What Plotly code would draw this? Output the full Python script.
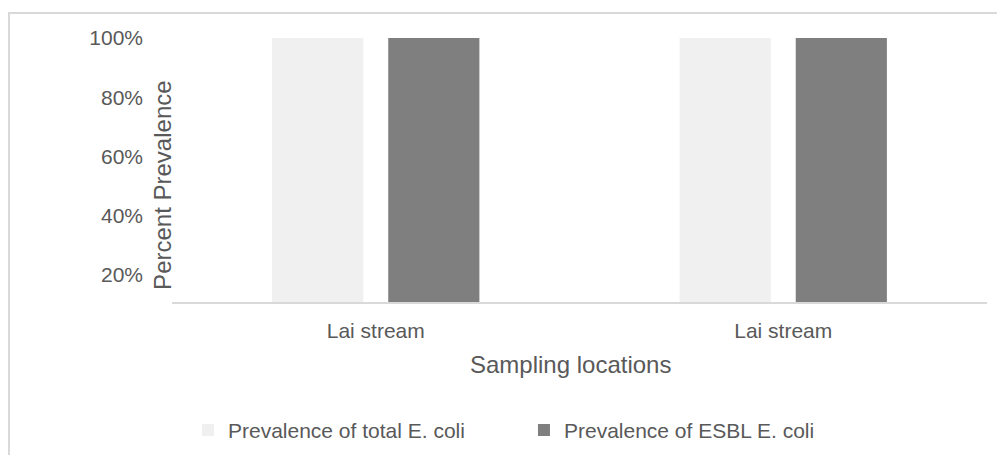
import plotly.graph_objects as go

categories = ["Lai stream", "Lai stream"]
total_ecoli = [100, 100]
esbl_ecoli = [100, 100]
series_names = ["Prevalence of total E. coli", "Prevalence of ESBL E. coli"]
y_ticks = [20, 40, 60, 80, 100]
y_tick_labels = ["20%", "40%", "60%", "80%", "100%"]

FONT = "Liberation Sans, Arial, sans-serif"
TXT = "#595959"
x_pos = list(range(len(categories)))

fig = go.Figure()
fig.add_trace(go.Bar(x=x_pos, y=total_ecoli, name=series_names[0],
                     marker=dict(color="#f0f0f0", line=dict(width=0))))
fig.add_trace(go.Bar(x=x_pos, y=esbl_ecoli, name=series_names[1],
                     marker=dict(color="#7f7f7f", line=dict(width=0))))

fig.update_layout(
    width=997, height=447,
    margin=dict(l=164, r=18, t=30, b=153, autoexpand=False),
    paper_bgcolor="white", plot_bgcolor="white",
    barmode="group", bargap=0.43, bargroupgap=0.215,
    font=dict(family=FONT, color=TXT, size=21),
    showlegend=True,
    legend=dict(orientation="h", x=0.0196, xanchor="left", y=-0.486, yanchor="middle",
                font=dict(size=21, color=TXT), entrywidth=291, traceorder="normal",
                bgcolor="rgba(0,0,0,0)"),
    xaxis=dict(tickmode="array", tickvals=x_pos, ticktext=categories,
               range=[-0.5, len(categories) - 0.5],
               showline=True, linecolor="#d9d9d9", linewidth=2,
               showgrid=False, zeroline=False, ticks="",
               ticklabelstandoff=9, automargin=False,
               tickfont=dict(size=21, color=TXT, family=FONT)),
    yaxis=dict(range=[10.9, 100], tickmode="array", tickvals=y_ticks, ticktext=y_tick_labels,
               showline=False, showgrid=False, zeroline=False, ticks="",
               ticklabelstandoff=28, automargin=False,
               tickfont=dict(size=21, color=TXT, family=FONT)),
    annotations=[
        dict(text="Percent Prevalence", xref="paper", yref="paper",
             x=-0.011, y=0.44, xanchor="center", yanchor="middle",
             textangle=-90, showarrow=False, font=dict(size=24, color=TXT, family=FONT)),
        dict(text="Sampling locations", xref="paper", yref="paper",
             x=0.489, y=-0.238, xanchor="center", yanchor="middle",
             showarrow=False, font=dict(size=24, color=TXT, family=FONT)),
    ],
    shapes=[dict(type="rect", xref="paper", yref="paper",
                 x0=-0.2, x1=1.06, y0=-0.7, y1=1.095,
                 line=dict(color="#d9d9d9", width=2), fillcolor="rgba(0,0,0,0)", layer="below")],
)

fig.write_html("out.html")
